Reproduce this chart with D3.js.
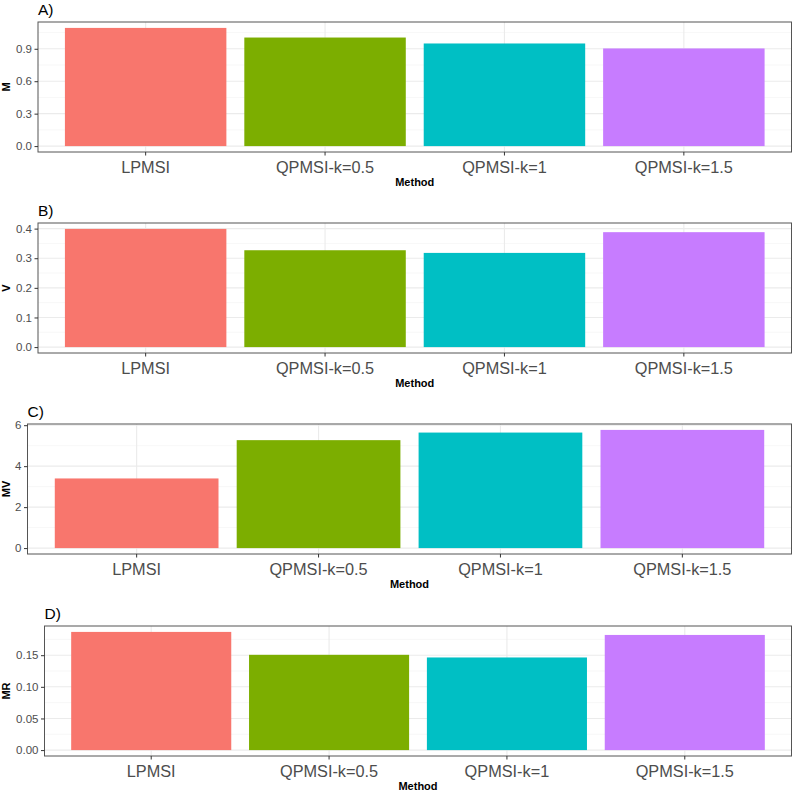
<!DOCTYPE html>
<html>
<head>
<meta charset="utf-8">
<script src="https://cdn.jsdelivr.net/npm/d3@7"></script>
<style>
  body { margin: 0; background: #fff; }
  svg { font-family: "Liberation Sans", Arial, sans-serif; }
</style>
</head>
<body>
<div id="chart"></div>
<script>
const methods = ["LPMSI", "QPMSI-k=0.5", "QPMSI-k=1", "QPMSI-k=1.5"];
const colors = ["#F8766D", "#7CAE00", "#00BFC4", "#C77CFF"];

const valuesM = [1.093, 1.004, 0.949, 0.903];
const valuesV = [0.399, 0.327, 0.318, 0.388];
const valuesMV = [3.40, 5.27, 5.64, 5.77];
const valuesMR = [0.1868, 0.1506, 0.1464, 0.182];

const ticksM = [0, 0.3, 0.6, 0.9];
const ticksV = [0, 0.1, 0.2, 0.3, 0.4];
const ticksMV = [0, 2, 4, 6];
const ticksMR = [0, 0.05, 0.10, 0.15];

const panels = [
  { tag: "A)", ytitle: "M", values: valuesM, ticks: ticksM, fmt: d3.format(".1f"), top: 22, left: 38 },
  { tag: "B)", ytitle: "V", values: valuesV, ticks: ticksV, fmt: d3.format(".1f"), top: 223, left: 38 },
  { tag: "C)", ytitle: "MV", values: valuesMV, ticks: ticksMV, fmt: d3.format("d"), top: 424, left: 27.5 },
  { tag: "D)", ytitle: "MR", values: valuesMR, ticks: ticksMR, fmt: d3.format(".2f"), top: 626, left: 44.5 }
];

const width = 794, height = 791;
const plotH = 130, right = 791.5;

const svg = d3.select("#chart").append("svg")
  .attr("width", width)
  .attr("height", height);

panels.forEach(p => {
  const w = right - p.left;
  const g = svg.append("g").attr("transform", `translate(${p.left},${p.top})`);

  const maxV = d3.max(p.values);
  const y = d3.scaleLinear()
    .domain([-0.05 * maxV, maxV * 1.05])
    .range([plotH, 0]);

  // discrete x with ggplot-style 0.6 expansion
  const xc = d3.scaleLinear().domain([0.4, methods.length + 0.6]).range([0, w]);

  // minor grid
  const minor = [];
  for (let i = 0; i < p.ticks.length - 1; i++) minor.push((p.ticks[i] + p.ticks[i + 1]) / 2);
  const step = p.ticks[1] - p.ticks[0];
  const last = p.ticks[p.ticks.length - 1] + step / 2;
  if (last < y.domain()[1]) minor.push(last);
  g.selectAll(".minor").data(minor).join("line")
    .attr("x1", 0).attr("x2", w)
    .attr("y1", d => y(d)).attr("y2", d => y(d))
    .attr("stroke", "#f2f2f2").attr("stroke-width", 0.6);

  // major grid
  g.selectAll(".majorY").data(p.ticks).join("line")
    .attr("x1", 0).attr("x2", w)
    .attr("y1", d => y(d)).attr("y2", d => y(d))
    .attr("stroke", "#ebebeb").attr("stroke-width", 1.1);
  g.selectAll(".majorX").data(methods).join("line")
    .attr("x1", (d, i) => xc(i + 1)).attr("x2", (d, i) => xc(i + 1))
    .attr("y1", 0).attr("y2", plotH)
    .attr("stroke", "#ebebeb").attr("stroke-width", 1.1);

  // bars
  g.selectAll(".bar").data(p.values).join("rect")
    .attr("x", (d, i) => xc(i + 1 - 0.45))
    .attr("width", xc(0.9) - xc(0))
    .attr("y", d => y(d))
    .attr("height", d => y(0) - y(d))
    .attr("fill", (d, i) => colors[i]);

  // border
  g.append("rect")
    .attr("x", 0).attr("y", 0).attr("width", w).attr("height", plotH)
    .attr("fill", "none").attr("stroke", "#555").attr("stroke-width", 1);

  // y ticks
  const yAxis = g.append("g")
    .call(d3.axisLeft(y).tickValues(p.ticks).tickFormat(p.fmt).tickSize(3.5).tickPadding(2.5));
  yAxis.select(".domain").remove();
  yAxis.selectAll(".tick line").attr("stroke", "#333");
  yAxis.selectAll(".tick text").attr("fill", "#4d4d4d").style("font-size", "11.5px");

  // x ticks
  const xAxis = g.append("g").attr("transform", `translate(0,${plotH})`);
  xAxis.selectAll("line").data(methods).join("line")
    .attr("x1", (d, i) => xc(i + 1)).attr("x2", (d, i) => xc(i + 1))
    .attr("y1", 0).attr("y2", 3.5)
    .attr("stroke", "#333");
  xAxis.selectAll("text").data(methods).join("text")
    .attr("x", (d, i) => xc(i + 1))
    .attr("y", 21)
    .attr("text-anchor", "middle")
    .attr("fill", "#4d4d4d")
    .style("font-size", "16.3px")
    .text(d => d);

  // x title
  g.append("text")
    .attr("x", w / 2).attr("y", plotH + 34)
    .attr("text-anchor", "middle")
    .style("font-size", "11px").style("font-weight", "bold")
    .text("Method");

  // y title
  g.append("text")
    .attr("transform", `translate(${-p.left + 10},${plotH / 2}) rotate(-90)`)
    .attr("text-anchor", "middle")
    .style("font-size", "11px").style("font-weight", "bold")
    .text(p.ytitle);

  // panel tag
  g.append("text")
    .attr("x", 0).attr("y", -7.5)
    .style("font-size", "15.5px")
    .text(p.tag);
});
</script>
</body>
</html>
